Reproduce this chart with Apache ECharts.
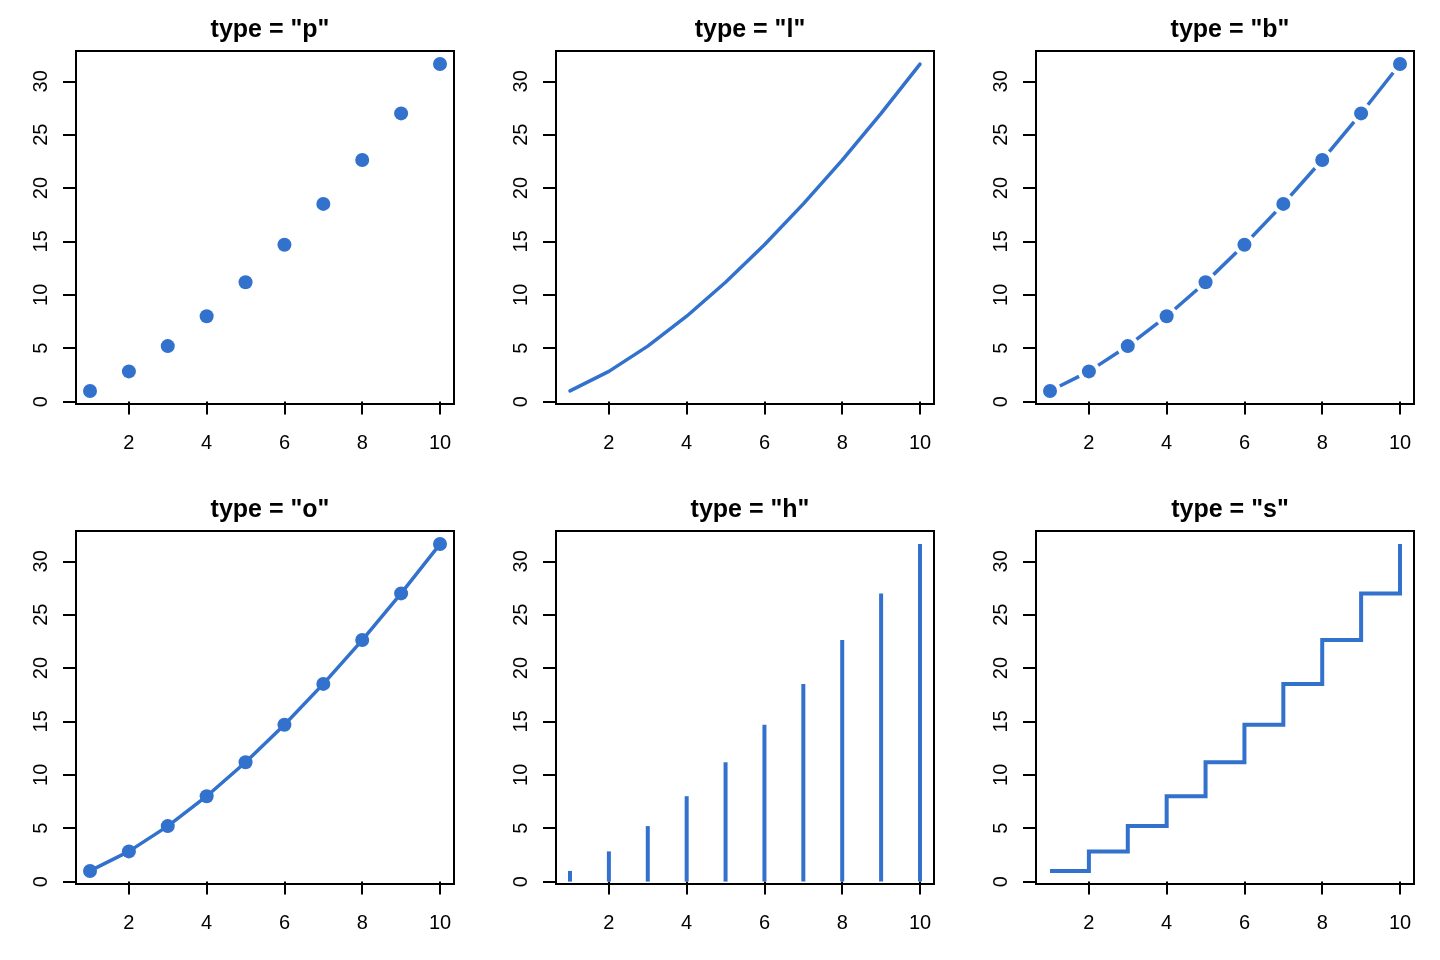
<!DOCTYPE html>
<html>
<head>
<meta charset="utf-8">
<script src="https://cdn.jsdelivr.net/npm/echarts@6/dist/echarts.min.js"></script>
<style>
  html, body { margin: 0; padding: 0; background: #fff; }
  #chart { width: 1440px; height: 960px; }
</style>
</head>
<body>
<div id="chart"></div>
<script>
const xs = [1, 2, 3, 4, 5, 6, 7, 8, 9, 10];
const ys = [1, 2.83, 5.2, 8, 11.18, 14.7, 18.52, 22.63, 27, 31.62];
const plotTypes = ['p', 'l', 'b', 'o', 'h', 's'];
const xTicks = [2, 4, 6, 8, 10];
const yTicks = [0, 5, 10, 15, 20, 25, 30];

const blue = '#3271CC';
const font = "'Liberation Sans', Arial, Helvetica, sans-serif";
const lineW = 3.5;

// R-style 4% padding around the data range
const xPad = (Math.max(...xs) - Math.min(...xs)) * 0.04;
const yPad = (Math.max(...ys) - Math.min(...ys)) * 0.04;
const xMin = Math.min(...xs) - xPad, xMax = Math.max(...xs) + xPad;
const yMin = Math.min(...ys) - yPad, yMax = Math.max(...ys) + yPad;

const colLeft = [76, 556, 1036];
const rowTop = [51, 531];
const boxW = 378, boxH = 353;

const points = xs.map((x, i) => [x, ys[i]]);
const segments = xs.slice(0, -1).map((x, i) => [x, ys[i], xs[i + 1], ys[i + 1]]);

const chart = echarts.init(document.getElementById('chart'));

const grids = [], xAxes = [], yAxes = [], titles = [], series = [];
const dot = { color: blue, opacity: 1 };

plotTypes.forEach((type, k) => {
  const left = colLeft[k % 3];
  const top = rowTop[Math.floor(k / 3)];
  grids.push({
    left: left, top: top, width: boxW, height: boxH,
    show: true, borderColor: '#000', borderWidth: 2, backgroundColor: 'transparent'
  });
  titles.push({
    text: 'type = "' + type + '"',
    left: left + boxW / 2, top: top - 38, textAlign: 'center',
    textStyle: { fontFamily: font, fontSize: 25, fontWeight: 'bold', color: '#000' }
  });
  xAxes.push({
    type: 'value', gridIndex: k, min: xMin, max: xMax,
    axisLine: { show: false },
    splitLine: { show: false },
    axisTick: { show: true, length: 13, lineStyle: { color: '#000', width: 2 }, customValues: xTicks },
    axisLabel: { margin: 29, fontSize: 20, fontFamily: font, color: '#000', customValues: xTicks }
  });
  yAxes.push({
    type: 'value', gridIndex: k, min: yMin, max: yMax,
    axisLine: { show: false },
    splitLine: { show: false },
    axisTick: { show: true, length: 13, lineStyle: { color: '#000', width: 2 }, customValues: yTicks },
    axisLabel: { margin: 25, rotate: 90, fontSize: 20, fontFamily: font, color: '#000', customValues: yTicks }
  });

  const base = { xAxisIndex: k, yAxisIndex: k, animation: false, silent: true };

  if (type === 'p') {
    series.push(Object.assign({ type: 'scatter', data: points, symbolSize: 14, itemStyle: dot }, base));
  } else if (type === 'l') {
    series.push(Object.assign({ type: 'line', data: points, showSymbol: false,
      lineStyle: { color: blue, width: lineW, cap: 'round', join: 'round' } }, base));
  } else if (type === 'b') {
    const gap = 11;
    series.push(Object.assign({
      type: 'custom', data: segments, encode: { x: [0, 2], y: [1, 3] },
      renderItem: function (params, api) {
        const a = api.coord([api.value(0), api.value(1)]);
        const b = api.coord([api.value(2), api.value(3)]);
        const dx = b[0] - a[0], dy = b[1] - a[1];
        const len = Math.sqrt(dx * dx + dy * dy);
        const ux = dx / len, uy = dy / len;
        return {
          type: 'line',
          shape: { x1: a[0] + ux * gap, y1: a[1] + uy * gap, x2: b[0] - ux * gap, y2: b[1] - uy * gap },
          style: { stroke: blue, lineWidth: lineW, lineCap: 'butt' }
        };
      }
    }, base));
    series.push(Object.assign({ type: 'scatter', data: points, symbolSize: 14, itemStyle: dot }, base));
  } else if (type === 'o') {
    series.push(Object.assign({ type: 'line', data: points, symbol: 'circle', symbolSize: 14,
      itemStyle: dot, lineStyle: { color: blue, width: lineW, join: 'round' } }, base));
  } else if (type === 'h') {
    series.push(Object.assign({
      type: 'custom', data: points, encode: { x: 0, y: 1 },
      renderItem: function (params, api) {
        const a = api.coord([api.value(0), 0]);
        const b = api.coord([api.value(0), api.value(1)]);
        return {
          type: 'line',
          shape: { x1: a[0], y1: a[1], x2: b[0], y2: b[1] },
          style: { stroke: blue, lineWidth: lineW + 0.5, lineCap: 'butt' }
        };
      }
    }, base));
  } else if (type === 's') {
    series.push(Object.assign({ type: 'line', data: points, step: 'end', showSymbol: false,
      lineStyle: { color: blue, width: lineW + 0.5, join: 'miter' } }, base));
  }
});

chart.setOption({
  backgroundColor: '#fff',
  title: titles,
  grid: grids,
  xAxis: xAxes,
  yAxis: yAxes,
  series: series
});
</script>
</body>
</html>
